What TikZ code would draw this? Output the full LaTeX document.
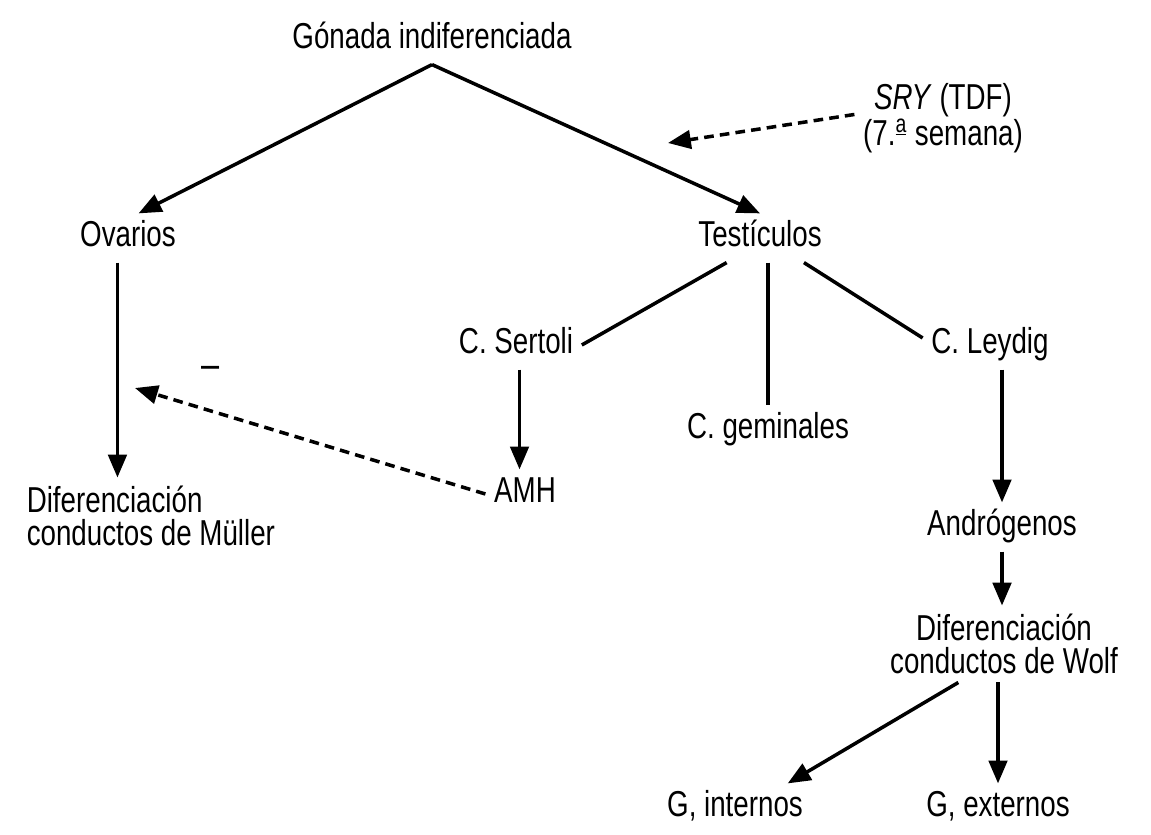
\documentclass[tikz,border=0pt]{standalone}
\usepackage{fontspec}
\setmainfont{Liberation Sans}[FakeStretch=0.77]
\usetikzlibrary{arrows.meta}
\begin{document}
\begin{tikzpicture}[x=0.02cm,y=-0.02cm,line width=2pt,
		>={Triangle[length=13pt,width=10.5pt]},
		txt/.style={inner sep=0pt,outer sep=5pt,text height=14pt,text depth=4pt,font=\fontsize{20.5}{18}\selectfont},
		txtm/.style={inner sep=0pt,outer sep=5pt,font=\fontsize{20.5}{18.5}\selectfont},
		arr/.style={->},
		dsh/.style={->,dash pattern=on 5.5pt off 3.5pt}]
	\useasboundingbox (0,0) rectangle (1151,834);
	% nodos
	\node[txt] (gon) at (432,40) {Gónada indiferenciada};
	\node[txt] (ova) at (128,238) {Ovarios};
	\node[txt] (test) at (760,238) {Testículos};
	\node[txtm,align=center] (sry) at (943,118) {\textit{SRY} (TDF)\\(7.\textsuperscript{\underline{a}} semana)};
	\node[txtm,align=left,anchor=west] (mul) at (18,516) {Diferenciación\\conductos de Müller};
	\node[txt] (ser) at (516,345) {C. Sertoli};
	\node[txt] (gem) at (768,430) {C. geminales};
	\node[txt] (ley) at (990,345) {C. Leydig};
	\node[txt] (amh) at (525,494) {AMH};
	\node[txt] (and) at (1002,527) {Andrógenos};
	\node[txtm,align=center] (wol) at (1004,644) {Diferenciación\\conductos de Wolf};
	\node[txt] (int) at (735,808) {G, internos};
	\node[txt] (ext) at (998,808) {G, externos};
	\node[inner sep=0pt,font=\fontsize{24}{24}\selectfont] (neg) at (211,372) {–};
	\coordinate (sryfin) at (668,143);
	\coordinate (amhfin) at (135,388);
	% flechas
	\draw[arr] (gon.south) -- ([xshift=6pt]ova.north);
	\draw[arr] (gon.south) -- (test.north);
	\draw[dsh] ([yshift=2pt]sry.west) -- (sryfin);
	\draw[arr] ([xshift=-6pt]ova.south) -- ([xshift=-6pt]ova.south |- mul.north);
	\draw ([xshift=-19pt]test.south) -- (ser.east);
	\draw (gem.north |- test.south) -- (gem.north);
	\draw ([xshift=25pt]test.south) -- ([yshift=4pt]ley.west);
	\draw[arr] ([xshift=2pt]ser.south) -- ([xshift=2pt]ser.south |- amh.north);
	\draw[dsh] (amh.west) -- (amhfin);
	\draw[arr] (and.north |- ley.south) -- (and.north);
	\draw[arr] (and.south) -- (and.south |- wol.north);
	\draw[arr] ([xshift=-26pt]wol.south) -- ([xshift=30pt]int.north);
	\draw[arr] (ext.north |- wol.south) -- (ext.north);
\end{tikzpicture}
\end{document}
